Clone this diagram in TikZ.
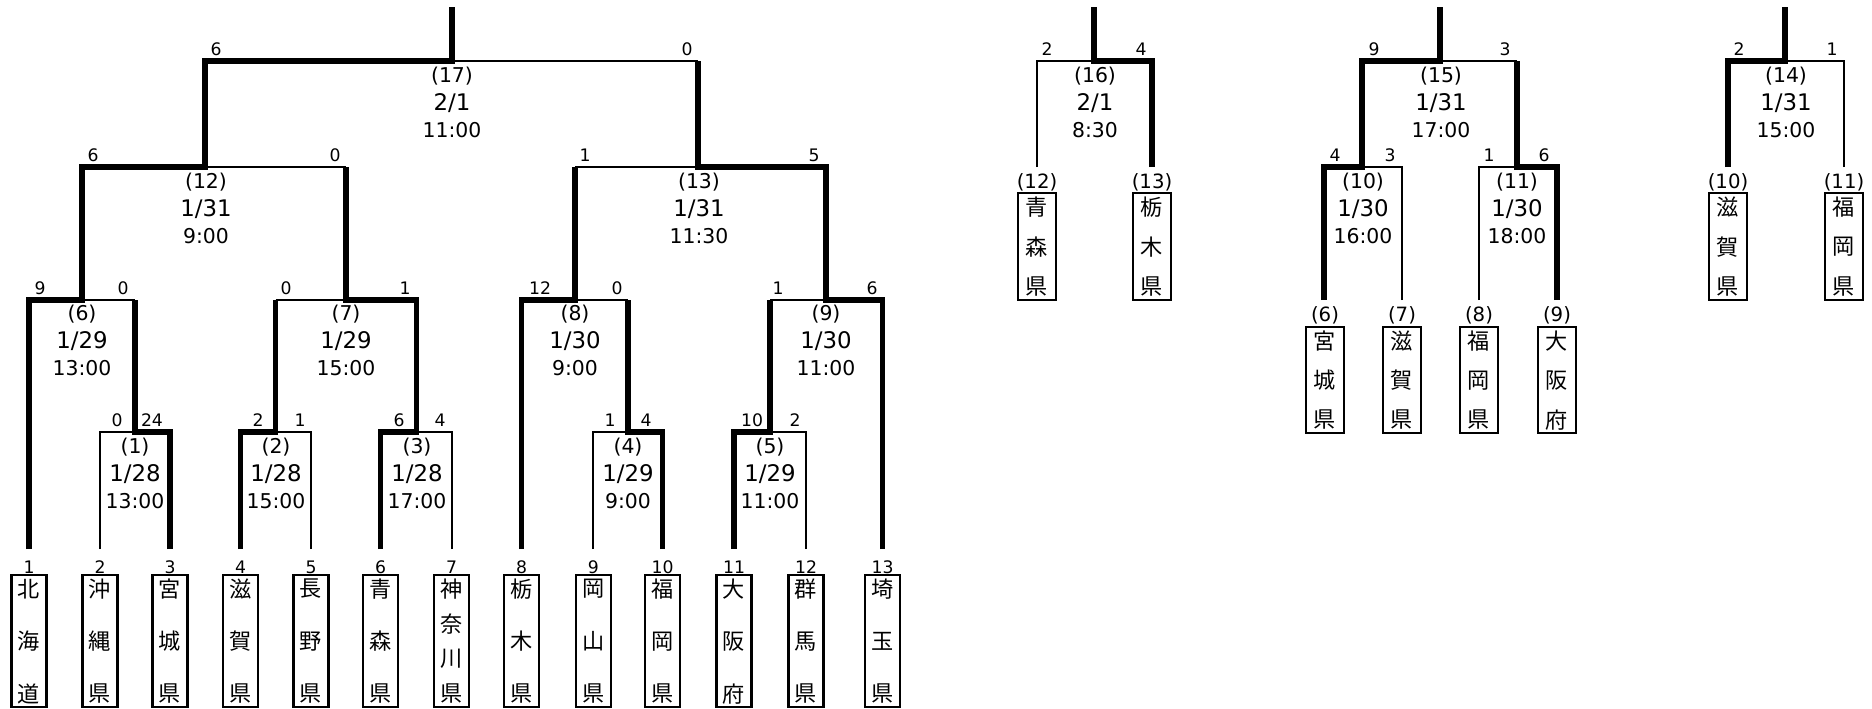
\documentclass[tikz,border=0pt]{standalone}
\usepackage{fontspec}
\newfontfamily\jp{Noto Sans CJK JP}
\newfontfamily\dg{DejaVu Sans}
\newcommand\minfo[6]{%
  \node[mno] (#1n) at (#2,#3+15) {(#4)};
  \node[mdate] (#1d) at (#2,#3+42) {#5};
  \node[mno] (#1t) at (#2,#3+69) {#6};}
\newcommand\scores[6]{%
  \node[sc] (#1l) at (#3,#2-12) {#4};
  \node[sc] (#1r) at (#5,#2-12) {#6};}
\newcommand\team[7]{%
  \node[teambox, minimum width=#5*0.01cm, minimum height={(#4-#3)*0.01cm}] (#1) at (#2,{(#3+#4)/2}) {};
  \foreach \c [count=\i] in {#7} {
    \node[kj] (#1-\i) at (#2,{#3+14+(\i-1)*(#4-#3-27)/(#6-1)}) {\c};
  }}
\begin{document}
\begin{tikzpicture}[x=0.01cm,y=-0.01cm,
  win/.style={line width=1.45pt, line join=miter},
  lose/.style={line width=0.55pt},
  sc/.style={font=\dg\fontsize{4.9}{5}\selectfont, inner sep=0pt},
  mno/.style={font=\dg\fontsize{5.8}{6}\selectfont, inner sep=0pt},
  mdate/.style={font=\dg\fontsize{6.5}{7}\selectfont, inner sep=0pt},
  kj/.style={font=\jp\fontsize{6.3}{7}\selectfont, inner sep=0pt},
  lbl/.style={font=\dg\fontsize{5.6}{6}\selectfont, inner sep=0pt},
  teambox/.style={draw, line width=0.6pt, inner sep=0pt}]
\useasboundingbox (0,0) rectangle (1872,709);

% ================= main bracket =================
% winner paths
\draw[win] (29,549) -- (29,300) -- (82,300) -- (82,167) -- (205,167) -- (205,61) -- (452,61) -- (452,7);
\draw[win] (170,549) -- (170,432) -- (135,432) -- (135,300);
\draw[win] (240.7,549) -- (240.7,432) -- (275.5,432) -- (275.5,300);
\draw[win] (380.7,549) -- (380.7,432) -- (416.7,432) -- (416.7,300) -- (346,300) -- (346,167);
\draw[win] (521.7,549) -- (521.7,300) -- (575,300) -- (575,167);
\draw[win] (662.7,549) -- (662.7,432) -- (628,432) -- (628,300);
\draw[win] (734,549) -- (734,432) -- (770,432) -- (770,300);
\draw[win] (882.7,549) -- (882.7,300) -- (826,300) -- (826,167) -- (698,167) -- (698,61);
% loser paths
\draw[lose] (100,549) -- (100,432) -- (135,432);
\draw[lose] (311,549) -- (311,432) -- (275.5,432);
\draw[lose] (451.7,549) -- (451.7,432) -- (416.7,432);
\draw[lose] (593.3,549) -- (593.3,432) -- (628,432);
\draw[lose] (806,549) -- (806,432) -- (770,432);
\draw[lose] (82,300) -- (135,300);
\draw[lose] (275.5,300) -- (346,300);
\draw[lose] (575,300) -- (628,300);
\draw[lose] (770,300) -- (826,300);
\draw[lose] (205,167) -- (346,167);
\draw[lose] (575,167) -- (698,167);
\draw[lose] (452,61) -- (698,61);

% scores
\scores{s1}{432}{117}{0}{152}{24}
\scores{s2}{432}{258}{2}{300}{1}
\scores{s3}{432}{399}{6}{440}{4}
\scores{s4}{432}{610}{1}{646}{4}
\scores{s5}{432}{752}{10}{795}{2}
\scores{s6}{300}{40}{9}{123}{0}
\scores{s7}{300}{286}{0}{405}{1}
\scores{s8}{300}{540}{12}{617}{0}
\scores{s9}{300}{778}{1}{872}{6}
\scores{s12}{167}{93}{6}{335}{0}
\scores{s13}{167}{585}{1}{814}{5}
\scores{s17}{61}{216}{6}{687}{0}

% match info
\minfo{m1}{135}{432}{1}{1/28}{13:00}
\minfo{m2}{276}{432}{2}{1/28}{15:00}
\minfo{m3}{417}{432}{3}{1/28}{17:00}
\minfo{m4}{628}{432}{4}{1/29}{9:00}
\minfo{m5}{770}{432}{5}{1/29}{11:00}
\minfo{m6}{82}{299}{6}{1/29}{13:00}
\minfo{m7}{346}{299}{7}{1/29}{15:00}
\minfo{m8}{575}{299}{8}{1/30}{9:00}
\minfo{m9}{826}{299}{9}{1/30}{11:00}
\minfo{m12}{206}{167}{12}{1/31}{9:00}
\minfo{m13}{699}{167}{13}{1/31}{11:30}
\minfo{m17}{452}{61}{17}{2/1}{11:00}

% team numbers
\foreach \x [count=\i] in {29,100,170,240.7,311,380.7,451.7,521.7,593.3,662.7,734,806,882.7}
  \node[sc] (no\i) at (\x,567) {\i};

% team boxes
\team{t1}{29}{575}{707}{35}{3}{北,海,道}
\team{t2}{100}{575}{707}{35}{3}{沖,縄,県}
\team{t3}{170}{575}{707}{35}{3}{宮,城,県}
\team{t4}{240.7}{575}{707}{35}{3}{滋,賀,県}
\team{t5}{311}{575}{707}{35}{3}{長,野,県}
\team{t6}{380.7}{575}{707}{35}{3}{青,森,県}
\team{t7}{451.7}{575}{707}{35}{4}{神,奈,川,県}
\team{t8}{521.7}{575}{707}{35}{3}{栃,木,県}
\team{t9}{593.3}{575}{707}{35}{3}{岡,山,県}
\team{t10}{662.7}{575}{707}{35}{3}{福,岡,県}
\team{t11}{734}{575}{707}{35}{3}{大,阪,府}
\team{t12}{806}{575}{707}{35}{3}{群,馬,県}
\team{t13}{882.7}{575}{707}{35}{3}{埼,玉,県}

% ================= bracket (16) =================
\draw[win] (1152,167) -- (1152,61) -- (1094,61) -- (1094,7);
\draw[lose] (1037,167) -- (1037,61) -- (1094,61);
\scores{s16}{61}{1047}{2}{1141}{4}
\minfo{m16}{1095}{61}{16}{2/1}{8:30}
\node[lbl] (r12) at (1037,182) {(12)};
\node[lbl] (r13) at (1152,182) {(13)};
\team{u12}{1037}{193}{300}{38}{3}{青,森,県}
\team{u13}{1152}{193}{300}{38}{3}{栃,木,県}

% ================= bracket (15) =================
\draw[win] (1324,300) -- (1324,167) -- (1362,167) -- (1362,61) -- (1440,61) -- (1440,7);
\draw[win] (1557,300) -- (1557,167) -- (1517,167) -- (1517,61);
\draw[lose] (1402,300) -- (1402,167) -- (1362,167);
\draw[lose] (1479,300) -- (1479,167) -- (1517,167);
\draw[lose] (1440,61) -- (1517,61);
\scores{s15}{61}{1374}{9}{1505}{3}
\scores{s10}{167}{1335}{4}{1390}{3}
\scores{s11}{167}{1489}{1}{1544}{6}
\minfo{m15}{1441}{61}{15}{1/31}{17:00}
\minfo{m10}{1363}{167}{10}{1/30}{16:00}
\minfo{m11}{1517}{167}{11}{1/30}{18:00}
\node[lbl] (r6) at (1325,315) {(6)};
\node[lbl] (r7) at (1402,315) {(7)};
\node[lbl] (r8) at (1479,315) {(8)};
\node[lbl] (r9) at (1557,315) {(9)};
\team{u6}{1325}{327}{433}{38}{3}{宮,城,県}
\team{u7}{1402}{327}{433}{38}{3}{滋,賀,県}
\team{u8}{1479}{327}{433}{38}{3}{福,岡,県}
\team{u9}{1557}{327}{433}{38}{3}{大,阪,府}

% ================= bracket (14) =================
\draw[win] (1728,167) -- (1728,61) -- (1785,61) -- (1785,7);
\draw[lose] (1844,167) -- (1844,61) -- (1785,61);
\scores{s14}{61}{1739}{2}{1832}{1}
\minfo{m14}{1786}{61}{14}{1/31}{15:00}
\node[lbl] (r10) at (1728,182) {(10)};
\node[lbl] (r11) at (1844,182) {(11)};
\team{u10}{1728}{193}{300}{38}{3}{滋,賀,県}
\team{u11}{1844}{193}{300}{38}{3}{福,岡,県}
\end{tikzpicture}
\end{document}
